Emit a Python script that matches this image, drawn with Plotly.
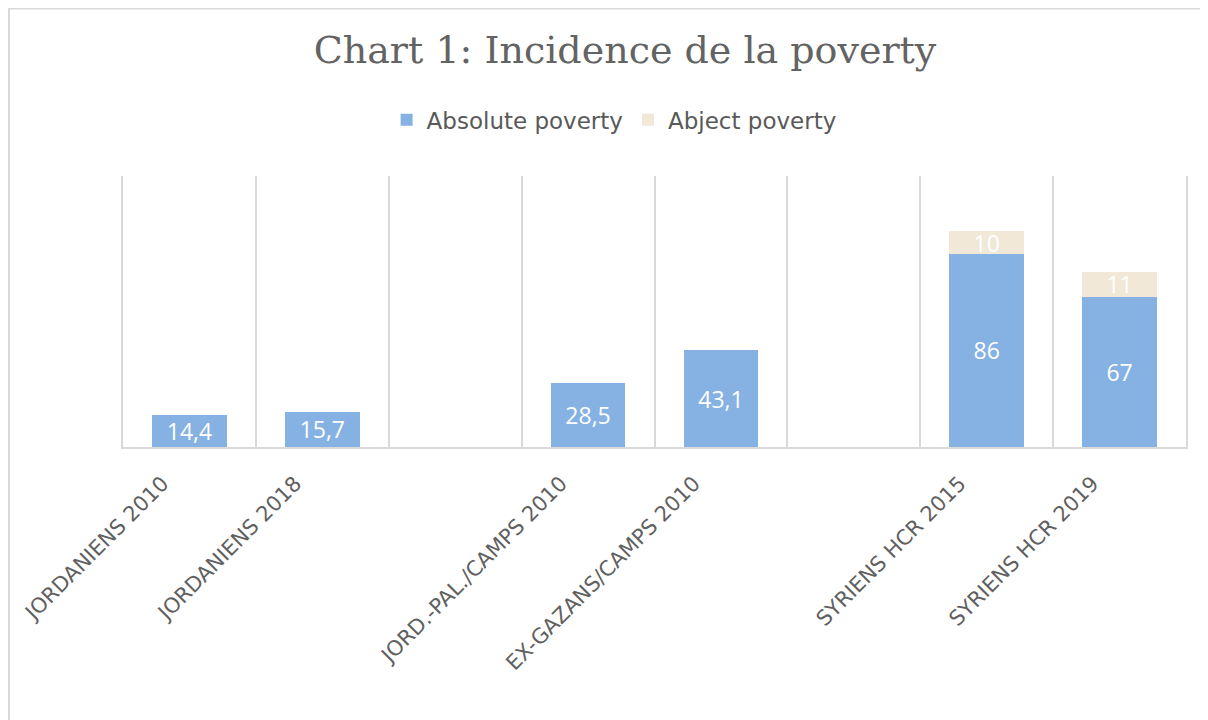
import plotly.graph_objects as go

categories = ["JORDANIENS 2010", "JORDANIENS 2018", " ", "JORD.-PAL./CAMPS 2010",
              "EX-GAZANS/CAMPS 2010", "  ", "SYRIENS HCR 2015", "SYRIENS HCR 2019"]
absolute_poverty = [14.4, 15.7, None, 28.5, 43.1, None, 86, 67]
abject_poverty = [None, None, None, None, None, None, 10, 11]


def fmt(v):
    return "" if v is None else f"{v:g}".replace(".", ",")


GRID = "#d9d9d9"
TXT = "#595959"
W, H = 1208, 720
L, R, T, B = 115, 30, 168, 281
PW, PH = W - L - R, H - T - B

fig = go.Figure()
fig.add_trace(go.Bar(
    x=categories, y=absolute_poverty, name="Absolute poverty",
    marker=dict(color="#85B2E2", line=dict(width=0)),
    text=[fmt(v) for v in absolute_poverty], textposition="inside",
    insidetextanchor="middle", textangle=0,
    textfont=dict(color="white", size=23, family="Open Sans"),
))
fig.add_trace(go.Bar(
    x=categories, y=abject_poverty, name="Abject poverty",
    marker=dict(color="#F1E8D7", line=dict(width=0)),
    text=[fmt(v) for v in abject_poverty], textposition="inside",
    insidetextanchor="middle", textangle=0,
    textfont=dict(color="white", size=23, family="Open Sans"),
))

fig.update_layout(
    barmode="stack", bargap=0.44,
    width=W, height=H,
    margin=dict(l=L, r=R, t=T, b=B),
    paper_bgcolor="white", plot_bgcolor="white",
    uniformtext=dict(minsize=23, mode="show"),
    title=dict(text="Chart 1: Incidence de la poverty",
               font=dict(family="DejaVu Serif", size=38, color="#636363"),
               x=617 / W, xref="container", xanchor="center",
               y=1 - 42 / H, yref="container", yanchor="middle"),
    legend=dict(orientation="h", x=0.462, xanchor="center", y=1.207, yanchor="middle",
                font=dict(family="DejaVu Sans", size=23, color=TXT),
                itemwidth=30, traceorder="normal"),
    xaxis=dict(type="category", categoryorder="array", categoryarray=categories,
               range=[-0.5, len(categories) - 0.5],
               tickson="boundaries", showgrid=True, gridcolor=GRID, gridwidth=1.5,
               showline=True, linecolor=GRID, linewidth=2, ticks="", ticklen=0,
               tickangle=-45, ticklabelstandoff=14, ticklabelshift=-27,
               tickfont=dict(family="DejaVu Sans", size=21, color="#606060")),
    yaxis=dict(range=[0, 120.7], showticklabels=False, ticks="", showgrid=False,
               zeroline=False, showline=True, mirror=True, linecolor=GRID, linewidth=1.5),
    shapes=[
        dict(type="line", xref="paper", yref="paper", x0=(1 - L) / PW, x1=1.2,
             y0=(T + PH - 0.5) / PH, y1=(T + PH - 0.5) / PH, line=dict(color=GRID, width=2)),
        dict(type="line", xref="paper", yref="paper", x0=(1 - L) / PW, x1=(1 - L) / PW,
             y0=(T + PH) / PH, y1=-1.2, line=dict(color=GRID, width=2)),
    ],
)

fig.write_html("out.html")
